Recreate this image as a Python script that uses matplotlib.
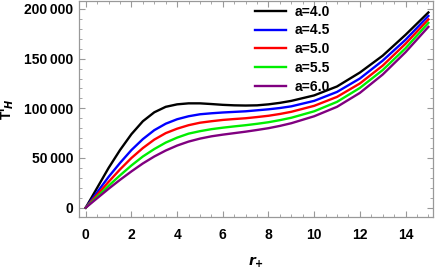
import numpy as np
import matplotlib
matplotlib.use('Agg')
from matplotlib import pyplot as plt
from matplotlib.ticker import MultipleLocator, FuncFormatter

#%% data
r_vals = [0, 0.5, 1, 1.5, 2, 2.5, 3, 3.5, 4, 4.5, 5, 5.5, 6, 6.5, 7, 7.5, 8, 8.5, 9, 10, 11, 12, 13, 14, 15]

T_a40 = [0, 20000, 40000, 58000, 74000, 87000, 96000, 101500, 104000, 105000, 105000, 104300, 103500,
         103000, 102800, 103000, 104000, 105500, 107500, 113000, 122000, 136000, 153000, 174000, 196500]
T_a45 = [0, 15500, 31000, 45000, 58000, 69000, 78000, 84500, 89000, 92000, 94000, 95000, 95800,
         96400, 97000, 98000, 99000, 100300, 102000, 107500, 116500, 130000, 148000, 169000, 193000]
T_a50 = [0, 13000, 26000, 38500, 50000, 60000, 68500, 75000, 79500, 83000, 85500, 87000, 88300,
         89200, 90000, 91200, 92500, 94300, 96500, 102500, 111500, 125000, 143000, 165000, 189500]
T_a55 = [0, 11000, 22000, 32500, 42500, 51500, 59000, 65500, 70500, 74500, 77000, 79000, 80500,
         81800, 83000, 84400, 86000, 88100, 90500, 97000, 106500, 120500, 138500, 160500, 186000]
T_a60 = [0, 9500, 19000, 28000, 36500, 44500, 51500, 57500, 62500, 66500, 69500, 71800, 73500,
         75000, 76500, 78200, 80000, 82300, 85000, 92000, 101500, 115500, 134000, 156500, 182000]

series = [T_a40, T_a45, T_a50, T_a55, T_a60]
labels = ['a=4.0', 'a=4.5', 'a=5.0', 'a=5.5', 'a=6.0']
colors = ['black', 'blue', 'red', '#00ee00', 'purple']

#%% plot
plt.rcParams['font.family'] = ['Liberation Sans', 'DejaVu Sans']
plt.rcParams['font.weight'] = 'bold'

fig = plt.figure(figsize=(4.36, 2.69), dpi=100)
axes = fig.add_axes([0.181, 0.193, 0.812, 0.805])

for vals, lab, col in zip(series, labels, colors):
    axes.plot(r_vals, vals, '-', color=col, linewidth=1.7, label=lab)

axes.set_xlim(-0.3, 15.2)
axes.set_ylim(-9500, 208500)

axes.xaxis.set_major_locator(MultipleLocator(2))
axes.xaxis.set_minor_locator(MultipleLocator(0.5))
axes.yaxis.set_major_locator(MultipleLocator(50000))
axes.yaxis.set_minor_locator(MultipleLocator(10000))
axes.yaxis.set_major_formatter(FuncFormatter(lambda v, p: '{:,.0f}'.format(v).replace(',', '\u2009')))

axes.tick_params(which='both', direction='in', top=True, right=True, color='#999999',
                 labelsize=10, pad=4)
axes.tick_params(axis='x', which='major', pad=8)
axes.tick_params(which='major', length=4, width=0.8)
axes.tick_params(which='minor', length=2, width=0.6)
for lbl in axes.get_xticklabels() + axes.get_yticklabels():
    lbl.set_fontweight('bold')
for sp in axes.spines.values():
    sp.set_color('#999999')
    sp.set_linewidth(0.9)

axes.set_xlabel(r'$\boldsymbol{r}_{\mathbf{+}}$', fontsize=10, labelpad=9)
axes.set_ylabel(r"T'$_{H}$", fontsize=10, fontweight='bold', labelpad=6)

leg = axes.legend(loc='upper left', bbox_to_anchor=(0.475, 1.02), frameon=False,
                  prop={'weight': 'bold', 'size': 10}, handlelength=2.2,
                  handletextpad=0.6, labelspacing=0.35, borderaxespad=0.2)

fig.savefig('out.png', dpi=100)
